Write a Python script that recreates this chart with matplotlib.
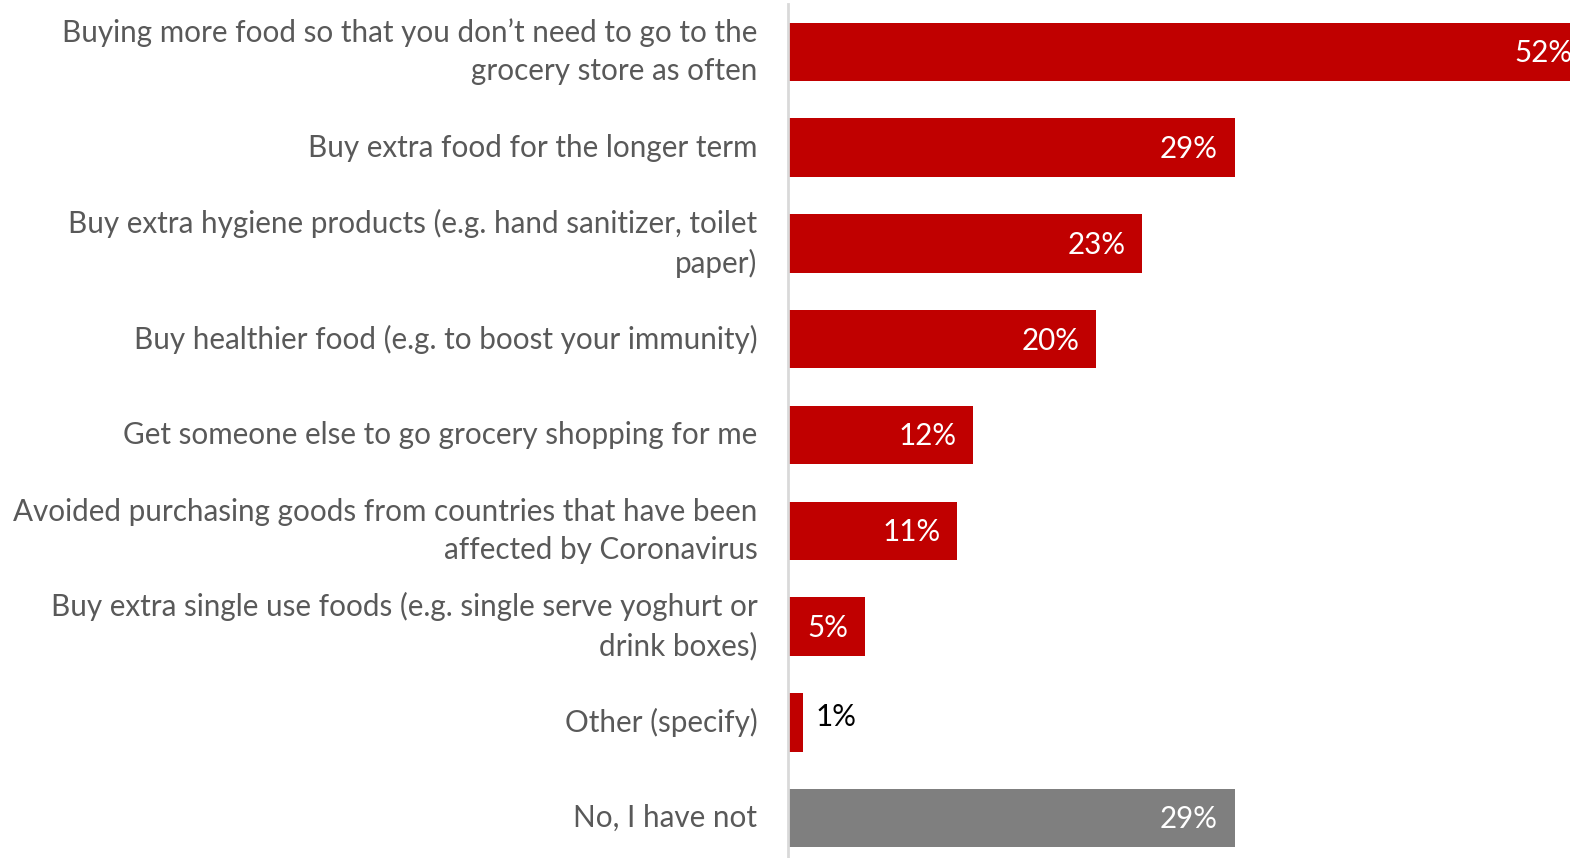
import matplotlib.pyplot as plt

plt.rcParams['font.family'] = ['Lato', 'DejaVu Sans']

labels = [
    "Buying more food so that you don\u2019t need to go to the\ngrocery store as often",
    "Buy extra food for the longer term",
    "Buy extra hygiene products (e.g. hand sanitizer, toilet\npaper)",
    "Buy healthier food (e.g. to boost your immunity)",
    "Get someone else to go grocery shopping for me",
    "Avoided purchasing goods from countries that have been\naffected by Coronavirus",
    "Buy extra single use foods (e.g. single serve yoghurt or\ndrink boxes)",
    "Other (specify)",
    "No, I have not",
]
values = [52, 29, 23, 20, 12, 11, 5, 1, 29]
colors = ['#c00000'] * 8 + ['#7f7f7f']

W, H = 1570, 858
fig = plt.figure(figsize=(W / 100, H / 100), dpi=100)
ax = fig.add_axes([788 / W, -8 / H, 782 / W, 862 / H])

y = list(range(len(values)))
ax.barh(y, values, height=0.61, color=colors)
ax.set_ylim(len(values) - 0.5, -0.5)
ax.set_xlim(0, 782 / 15.4)

ax.set_yticks(y)
ax.set_yticklabels(labels, fontsize=21.3, color='#595959', linespacing=1.45, va='center')
ax.tick_params(axis='y', length=0, pad=22)
ax.set_xticks([])
for s in ['top', 'right', 'bottom']:
    ax.spines[s].set_visible(False)
ax.spines['left'].set_color('#d9d9d9')
ax.spines['left'].set_linewidth(2)

# value labels: white inside the bar, black beside the tiny one
for yi, v in zip(y, values):
    if v >= 3:
        ax.annotate(f"{v}%", (v, yi), xytext=(-12, -1), textcoords='offset points',
                    ha='right', va='center', color='white', fontsize=21.3,
                    annotation_clip=False)
    else:
        ax.annotate(f"{v}%", (v, yi), xytext=(9, 4), textcoords='offset points',
                    ha='left', va='center', color='black', fontsize=21.3)

fig.savefig('out.png', dpi=100)
